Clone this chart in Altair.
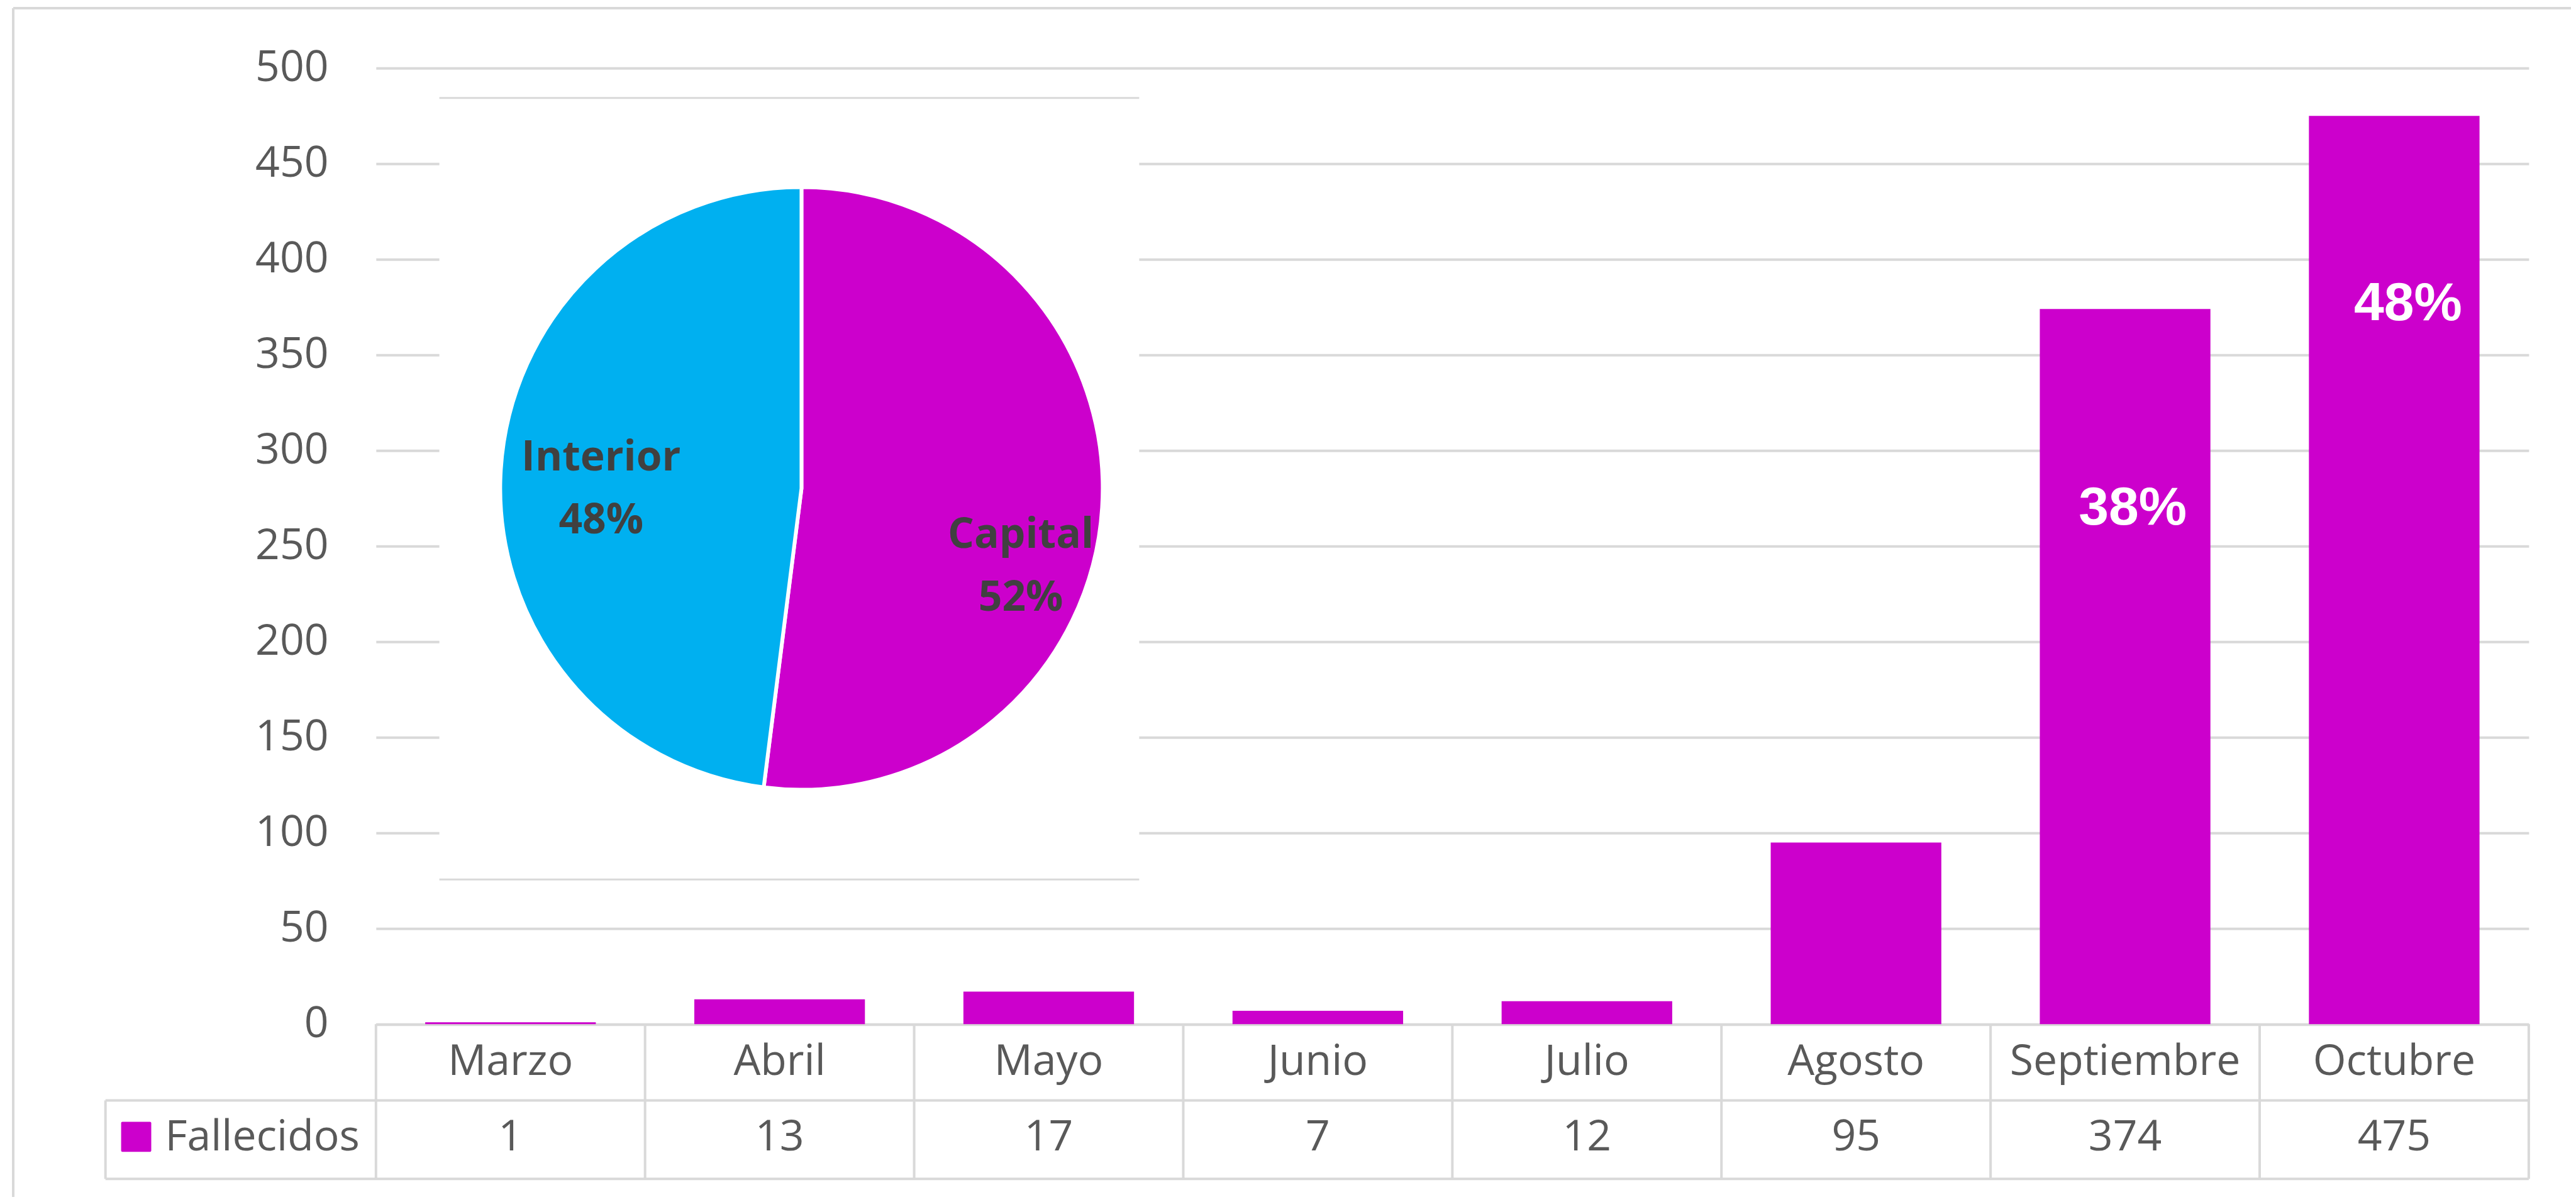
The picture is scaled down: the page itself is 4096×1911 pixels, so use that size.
import altair as alt
import pandas as pd

# ---------------- data ----------------
months = ["Marzo", "Abril", "Mayo", "Junio", "Julio", "Agosto", "Septiembre", "Octubre"]
fallecidos = [1, 13, 17, 7, 12, 95, 374, 475]
series_name = "Fallecidos"
bar_label_months = ["Septiembre", "Octubre"]
bar_labels = ["38%", "48%"]
pie_regions = ["Capital", "Interior"]
pie_shares = [52, 48]
pie_colors = ["#CC00CC", "#00B0F0"]
y_ticks = [0, 50, 100, 150, 200, 250, 300, 350, 400, 450, 500]

# ---------------- layout helpers (reference px -> chart px) ----------------
S = 0.998
X0, Y0 = 599, 108.5


def X(xr):
    return round((xr - X0) * S, 1)


def Y(yr):
    return round((yr - Y0) * S, 1)


W = round(3430 * S, 1)
H = round(1523 * S, 1)
PAD_L = round(X0 * S - 8, 1)
PAD_T = round(Y0 * S - 8, 1)
PAD_R = round(4080 - PAD_L - W, 1)
PAD_B = round(1895 - PAD_T - H, 1)

GRID = "#D9D9D9"
TXT = "#595959"
FONT = "Open Sans"
FS = 68 * S

P_IN = 0.366
P_OUT = P_IN / 2
STEP = W / len(months)
EDGE_PX = round(P_OUT * STEP, 2)  # gap between a column edge and its bar

bars_df = pd.DataFrame({"month": months, "value": fallecidos})
lab_map = dict(zip(bar_label_months, bar_labels))
bars_df["label"] = [lab_map.get(m, "") for m in months]
pie_df = pd.DataFrame({"region": pie_regions, "share": pie_shares, "idx": list(range(len(pie_regions)))})
one = alt.Data(values=[{"a": 1}])

x_scale = alt.Scale(paddingInner=P_IN, paddingOuter=P_OUT)
y_scale = alt.Scale(domain=[0, 500], nice=False)
y_axis = alt.Axis(values=y_ticks, title=None, domain=False, ticks=False,
                  grid=True, gridColor=GRID, gridWidth=4,
                  labelFont=FONT, labelFontSize=FS, labelColor=TXT,
                  labelPadding=round(76 * S, 1))
xenc = alt.X("month:N", sort=months, scale=x_scale, axis=None)
yenc = alt.Y("value:Q", scale=y_scale, axis=y_axis)

# outer frame
frame_v = alt.Chart(one).mark_rule(color=GRID, strokeWidth=4).encode(
    x=alt.value(X(21)), y=alt.value(Y(13)), y2=alt.value(H + PAD_B + 10))
frame_h = alt.Chart(one).mark_rule(color=GRID, strokeWidth=4).encode(
    x=alt.value(X(21)), x2=alt.value(W + PAD_R + 10), y=alt.value(Y(13)))

# zero line / top of the data table (drawn under the bars)
t_h0 = alt.Chart(one).mark_rule(color=GRID, strokeWidth=4).encode(
    x=alt.value(0), x2=alt.value(W), y=alt.value(H + 1))

# bars with y axis
bars = alt.Chart(bars_df).mark_bar(color="#CC00CC").encode(x=xenc, y=yenc)

# inset background for the pie
inset = alt.Chart(one).mark_rect(fill="white").encode(
    x=alt.value(X(700)), x2=alt.value(X(1815)), y=alt.value(Y(156)), y2=alt.value(Y(1401)))
inset_top = alt.Chart(one).mark_rule(color=GRID, strokeWidth=3).encode(
    x=alt.value(X(700)), x2=alt.value(X(1815)), y=alt.value(Y(156)))
inset_bot = alt.Chart(one).mark_rule(color=GRID, strokeWidth=3).encode(
    x=alt.value(X(700)), x2=alt.value(X(1815)), y=alt.value(Y(1401)))

PCX, PCY, PR = X(1277), Y(778), round(480 * S, 1)
theta_scale = alt.Scale(domain=[0, 100], range=[0, 6.283185307179586])

pie = alt.Chart(pie_df).mark_arc(radius=PR, stroke="white", strokeWidth=6).encode(
    theta=alt.Theta("share:Q", stack=True, scale=theta_scale),
    order=alt.Order("idx:Q"),
    color=alt.Color("region:N", scale=alt.Scale(domain=pie_regions, range=pie_colors), legend=None),
    x=alt.value(PCX), y=alt.value(PCY),
)


def pie_label(region, dx, dy):
    return alt.Chart(pie_df).transform_window(
        cum="sum(share)", sort=[alt.SortField("idx")]
    ).transform_calculate(
        mid="datum.cum - datum.share / 2",
        lab="datum.region + '\\n' + datum.share + '%'",
    ).transform_filter(alt.datum.region == region).mark_text(
        font=FONT, fontWeight="bold", fontSize=66 * S, color="#404040",
        lineBreak="\n", lineHeight=round(100 * S, 1), align="center", baseline="middle",
        radius=round(330 * S, 1), dx=round(dx * S, 1), dy=round(dy * S, 1),
    ).encode(
        theta=alt.Theta("mid:Q", stack=None, scale=theta_scale),
        text="lab:N",
        x=alt.value(PCX), y=alt.value(PCY),
    )


pie_lab_cap = pie_label("Capital", 20, 54)
pie_lab_int = pie_label("Interior", 10, -28)


def bar_label(month, dx, dy):
    return alt.Chart(bars_df).transform_filter(alt.datum.month == month).mark_text(
        font="Liberation Sans", fontWeight="bold", fontSize=86 * S, color="white",
        align="center", baseline="middle", dx=round(dx * S, 1), dy=round(dy * S, 1),
    ).encode(x=xenc, y=yenc, text="label:N")


blab_sep = bar_label("Septiembre", 12, 317)
blab_oct = bar_label("Octubre", 22, 299)

# data table below the axis
t_h1 = alt.Chart(one).mark_rule(color=GRID, strokeWidth=4).encode(
    x=alt.value(X(168)), x2=alt.value(W), y=alt.value(Y(1753)))
t_h2 = alt.Chart(one).mark_rule(color=GRID, strokeWidth=4).encode(
    x=alt.value(X(168)), x2=alt.value(W), y=alt.value(Y(1878)))
t_v = alt.Chart(one).mark_rule(color=GRID, strokeWidth=4).encode(
    x=alt.value(X(168)), y=alt.value(Y(1753)), y2=alt.value(Y(1878)))
t_right = alt.Chart(one).mark_rule(color=GRID, strokeWidth=4).encode(
    x=alt.value(W), y=alt.value(H), y2=alt.value(Y(1878)))
# column separators at the left edge of each month's column
t_cols = alt.Chart(bars_df).mark_rule(color=GRID, strokeWidth=4).encode(
    x=alt.X("month:N", sort=months, scale=x_scale, axis=None, bandPosition=0),
    xOffset=alt.value(-EDGE_PX),
    y=alt.value(H), y2=alt.value(Y(1878)))

month_row = alt.Chart(bars_df).mark_text(
    font=FONT, fontSize=FS, color=TXT, align="center", baseline="middle"
).encode(x=xenc, y=alt.value(Y(1692)), text="month:N")

value_row = alt.Chart(bars_df).mark_text(
    font=FONT, fontSize=FS, color=TXT, align="center", baseline="middle"
).encode(x=xenc, y=alt.value(Y(1813)), text="value:Q")

swatch = alt.Chart(one).mark_rect(fill="#CC00CC", cornerRadius=2).encode(
    x=alt.value(X(193)), x2=alt.value(X(241)), y=alt.value(Y(1787)), y2=alt.value(Y(1835)))
legend_txt = alt.Chart(alt.Data(values=[{"name": series_name}])).mark_text(
    font=FONT, fontSize=FS, color=TXT, align="left", baseline="middle"
).encode(x=alt.value(X(263)), y=alt.value(Y(1813)), text="name:N")

chart = alt.layer(
    t_h0, bars, frame_v, frame_h, inset, inset_top, inset_bot, pie, pie_lab_cap, pie_lab_int,
    blab_sep, blab_oct, t_h1, t_h2, t_v, t_right, t_cols, month_row, value_row,
    swatch, legend_txt,
).properties(
    width=W, height=H,
    padding={"left": PAD_L, "top": PAD_T, "right": PAD_R, "bottom": PAD_B},
    autosize=alt.AutoSizeParams(type="none"),
    background="white",
).configure_view(strokeWidth=0)

chart.save("out.html", embed_options={"renderer": "svg", "actions": False})
